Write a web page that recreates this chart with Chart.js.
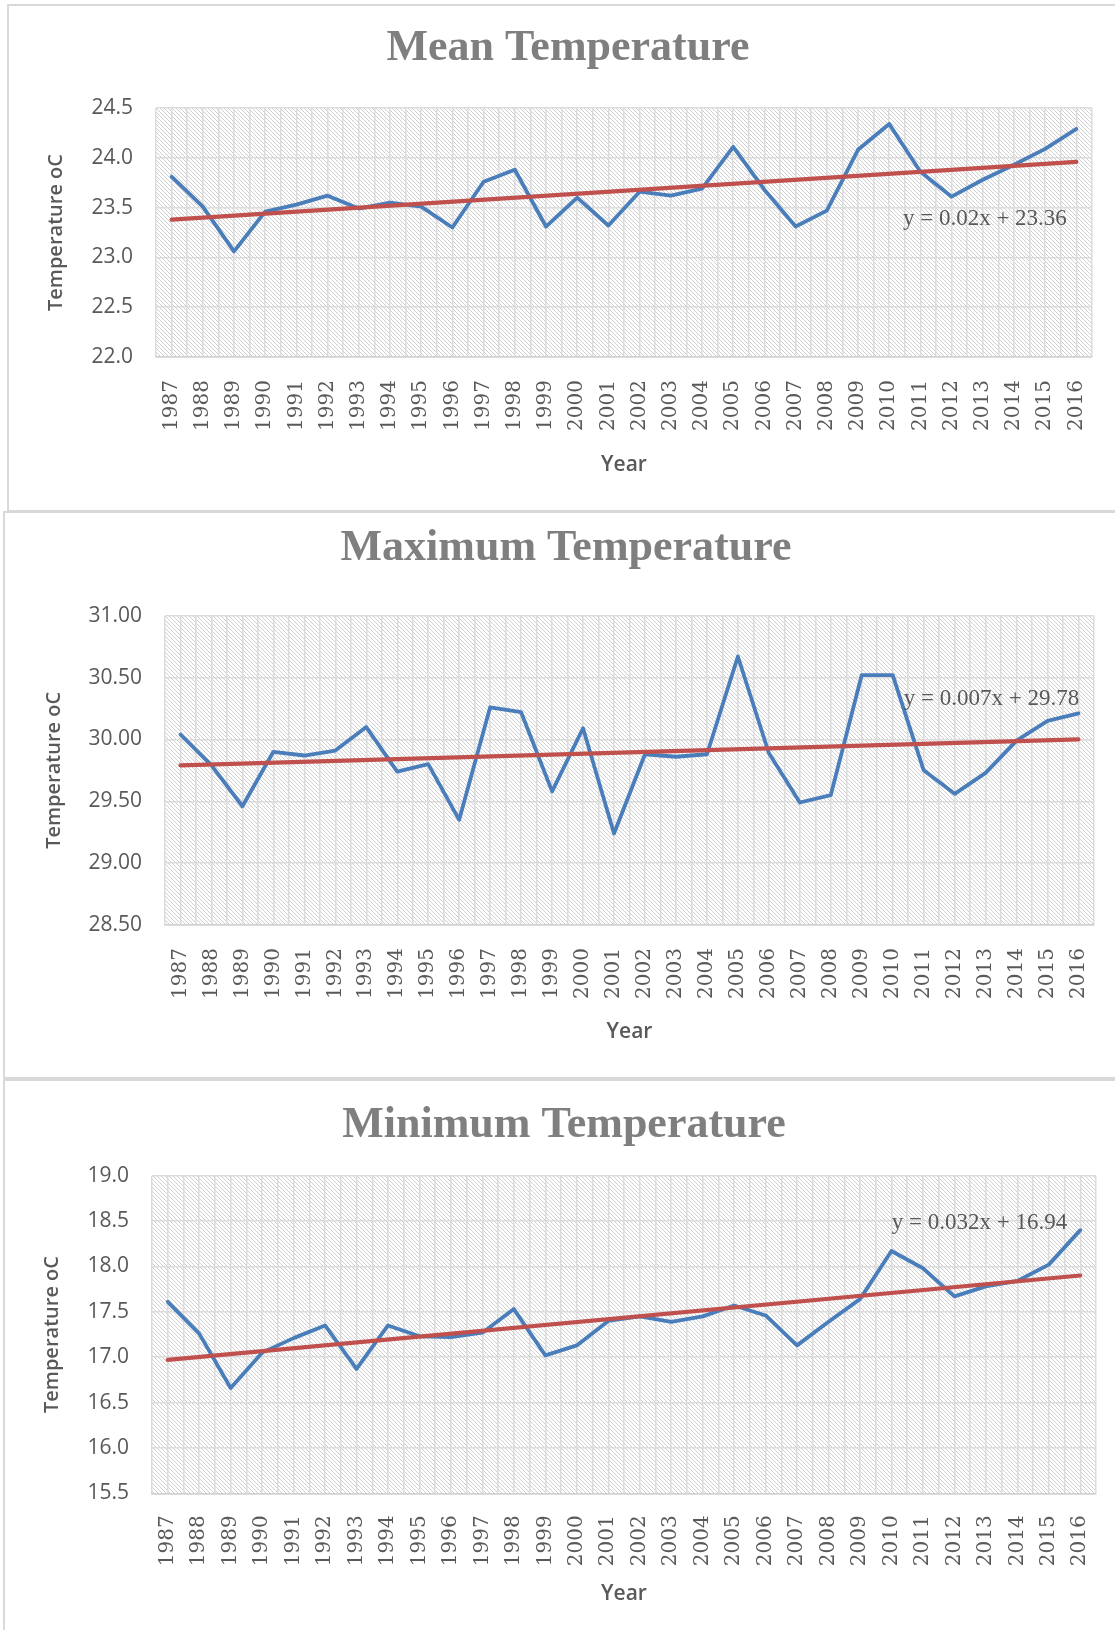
<!DOCTYPE html>
<html><head><meta charset="utf-8">
<script src="https://cdn.jsdelivr.net/npm/chart.js@4.4.0/dist/chart.umd.min.js"></script>
<style>
html,body{margin:0;padding:0;background:#fff;overflow:hidden;width:1115px;height:1630px;}
.panel{position:absolute;border:2px solid #d9d9d9;box-sizing:border-box;}
canvas{position:absolute;left:0;}
</style></head><body>
<div class="panel" style="left:7px;top:4px;width:1130px;height:508px"></div>
<div class="panel" style="left:3px;top:511px;width:1130px;height:568px"></div>
<div class="panel" style="left:3px;top:1079px;width:1130px;height:600px"></div>
<canvas id="c1" width="1115" height="511" style="top:0"></canvas>
<canvas id="c2" width="1115" height="568" style="top:511px"></canvas>
<canvas id="c3" width="1115" height="551" style="top:1079px"></canvas>
<script>
// ---- data ----
const years = [1987,1988,1989,1990,1991,1992,1993,1994,1995,1996,1997,1998,1999,2000,2001,2002,2003,2004,2005,2006,2007,2008,2009,2010,2011,2012,2013,2014,2015,2016];
const meanTemp = [23.81,23.51,23.06,23.46,23.53,23.62,23.49,23.55,23.51,23.30,23.76,23.88,23.31,23.60,23.32,23.66,23.62,23.69,24.11,23.68,23.31,23.47,24.08,24.34,23.86,23.61,23.78,23.93,24.09,24.29];
const maxTemp = [30.04,29.79,29.46,29.90,29.87,29.91,30.10,29.74,29.80,29.35,30.26,30.22,29.58,30.09,29.24,29.88,29.86,29.88,30.67,29.89,29.49,29.55,30.52,30.52,29.75,29.56,29.73,29.99,30.15,30.21];
const minTemp = [17.61,17.26,16.66,17.05,17.21,17.35,16.87,17.35,17.23,17.22,17.27,17.53,17.02,17.13,17.40,17.45,17.39,17.45,17.57,17.46,17.13,17.39,17.64,18.17,17.98,17.67,17.78,17.84,18.02,18.40];
const trendYears = [1987, 2016];
const meanTrend = [23.38, 23.96];
const maxTrend = [29.79, 30.00];
const minTrend = [16.97, 17.90];
const meanTicks = [22.0, 22.5, 23.0, 23.5, 24.0, 24.5];
const maxTicks = [28.50, 29.00, 29.50, 30.00, 30.50, 31.00];
const minTicks = [15.5, 16.0, 16.5, 17.0, 17.5, 18.0, 18.5, 19.0];
const meanEq = 'y = 0.02x + 23.36';
const maxEq = 'y = 0.007x + 29.78';
const minEq = 'y = 0.032x + 16.94';
const titles = ['Mean Temperature', 'Maximum Temperature', 'Minimum Temperature'];
const yTitle = 'Temperature oC';
const xTitle = 'Year';

// ---- plugins ----
const hatchPlugin = {
  id: 'hatch',
  beforeDraw(chart) {
    const {ctx, chartArea: a} = chart;
    const t = document.createElement('canvas'); t.width = 8; t.height = 8;
    const g = t.getContext('2d');
    g.fillStyle = '#ffffff'; g.fillRect(0, 0, 8, 8);
    g.strokeStyle = '#cfcfcf'; g.lineWidth = 1;
    for (let k = -8; k <= 8; k += 4) { g.beginPath(); g.moveTo(k, 0); g.lineTo(k + 8, 8); g.stroke(); }
    ctx.save();
    ctx.fillStyle = ctx.createPattern(t, 'repeat');
    ctx.fillRect(a.left, a.top, a.right - a.left, a.bottom - a.top);
    ctx.restore();
  }
};
const eqPlugin = {
  id: 'eq',
  afterDatasetsDraw(chart, args, o) {
    const {ctx, scales: {x, y}} = chart;
    ctx.save();
    ctx.font = o.font; ctx.fillStyle = o.color;
    ctx.textAlign = 'left'; ctx.textBaseline = 'middle';
    ctx.fillText(o.text, x.getPixelForValue(o.atX), y.getPixelForValue(o.atY));
    ctx.restore();
  }
};

function build(id, p) {
  const ticks = p.ticks;
  new Chart(document.getElementById(id), {
    type: 'line',
    data: {
      datasets: [
        { data: years.map((yr, i) => ({x: yr, y: p.values[i]})), borderColor: '#4a7ebb', borderWidth: 3.8,
          pointRadius: 0, tension: 0, borderJoinStyle: 'round', borderCapStyle: 'round', order: 2 },
        { data: trendYears.map((yr, i) => ({x: yr, y: p.trend[i]})), borderColor: '#c0504d', borderWidth: 4.2,
          pointRadius: 0, borderCapStyle: 'round', order: 1 }
      ]
    },
    options: {
      responsive: false, animation: false, devicePixelRatio: 1,
      layout: { padding: { left: p.padL, right: p.padR, top: 0, bottom: 0 } },
      plugins: {
        legend: { display: false }, tooltip: { enabled: false },
        title: { display: true, text: p.title, color: '#7f7f7f',
          font: { family: '"Liberation Serif", serif', size: 44, weight: 'bold', lineHeight: 1.2 },
          padding: { top: p.tTop, bottom: p.tBot } },
        eq: { text: p.eq, atX: p.eqX, atY: p.eqY, color: '#595959', font: '23px "Liberation Serif", serif' }
      },
      scales: {
        x: {
          type: 'linear', min: 1986.5, max: 2016.5,
          afterFit(s) { s.height = p.xH; s.paddingLeft = 0; s.paddingRight = 0; },
          ticks: { stepSize: 0.5, autoSkip: false, minRotation: 90, maxRotation: 90, padding: p.xPad,
            color: '#595959', font: { family: '"DejaVu Serif", serif', size: 20 },
            callback: v => Number.isInteger(v) ? String(v) : '' },
          grid: { color: '#dcdcdc', lineWidth: 1.5, drawTicks: false },
          border: { color: '#d0d0d0', width: 1.5 },
          title: { display: true, text: xTitle, color: '#595959',
            font: { family: '"Open Sans", sans-serif', size: 21, weight: '600' },
            padding: { top: 0, bottom: p.xtPad } }
        },
        y: {
          min: ticks[0], max: ticks[ticks.length - 1],
          afterFit(s) { s.width = p.yW; s.paddingTop = 0; s.paddingBottom = 0; },
          ticks: { stepSize: ticks[1] - ticks[0], padding: 23, color: '#595959',
            font: { family: '"Open Sans", sans-serif', size: 21 },
            callback: v => v.toFixed(p.dec) },
          grid: { color: '#dcdcdc', lineWidth: 1.5, drawTicks: false },
          border: { display: false },
          title: { display: true, text: yTitle, color: '#595959',
            font: { family: '"Open Sans", sans-serif', size: 20, weight: '600' },
            padding: { top: p.ytPad, bottom: 0 } }
        }
      }
    },
    plugins: [hatchPlugin, eqPlugin]
  });
}

build('c1', { title: titles[0], values: meanTemp, trend: meanTrend, ticks: meanTicks, dec: 1, eq: meanEq,
  eqX: 2010.44, eqY: 23.39, padL: 44, padR: 23, tTop: 22.6, tBot: 32.6, xH: 154, yW: 112, ytPad: 0, xtPad: 33.4, xPad: 23 });
build('c2', { title: titles[1], values: maxTemp, trend: maxTrend, ticks: maxTicks, dec: 2, eq: maxEq,
  eqX: 2010.36, eqY: 30.33, padL: 38, padR: 21, tTop: 11.1, tBot: 40.8, xH: 154, yW: 127, ytPad: 4, xtPad: 34.4, xPad: 23 });
build('c3', { title: titles[2], values: minTemp, trend: minTrend, ticks: minTicks, dec: 1, eq: minEq,
  eqX: 2010.01, eqY: 18.48, padL: 32, padR: 19, tTop: 20.1, tBot: 23.8, xH: 136.7, yW: 120, ytPad: 8, xtPad: 23.4, xPad: 22 });
</script>
</body></html>
